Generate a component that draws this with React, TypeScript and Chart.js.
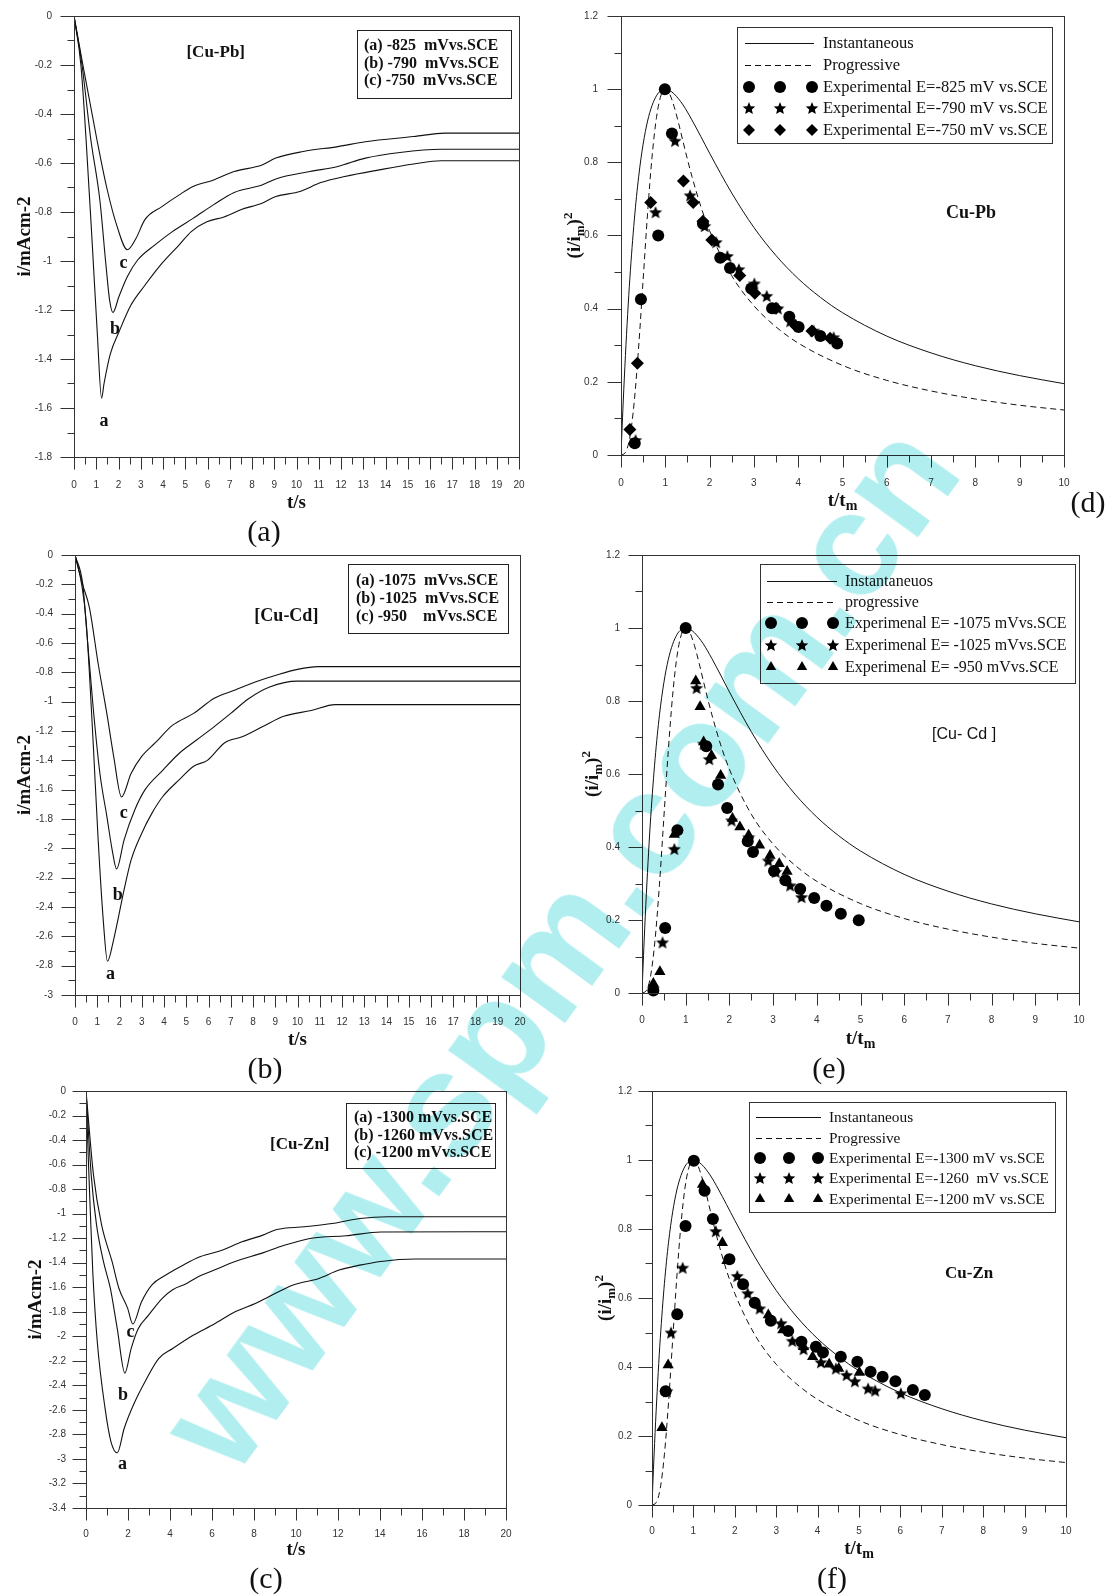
import React, { useEffect, useRef } from 'react';
import { Chart, registerables } from 'chart.js';

Chart.register(...registerables);

type Pt = [number, number];

// ---------- (a) Cu-Pb current transients (t/s, i/mA cm-2) ----------
const PB_CURVE_A: Pt[] = [[0,0],[0.31,-0.2],[0.54,-0.5],[0.82,-0.93],[1.05,-1.3],[1.24,-1.56],[1.35,-1.5],[1.63,-1.38],[2.02,-1.29],[2.56,-1.18],[3.18,-1.1],[3.95,-1.01],[4.73,-0.934],[5.27,-0.88],[5.97,-0.84],[6.74,-0.82],[7.52,-0.79],[8.45,-0.764],[9.07,-0.737],[10.16,-0.716],[11.09,-0.68],[12.17,-0.655],[13.72,-0.628],[15.27,-0.604],[16.5,-0.591],[20,-0.591]];
const PB_CURVE_B: Pt[] = [[0,0],[0.36,-0.2],[0.75,-0.5],[1.16,-0.75],[1.44,-1.02],[1.6,-1.16],[1.75,-1.21],[2.02,-1.145],[2.4,-1.063],[2.87,-0.995],[3.64,-0.934],[4.42,-0.88],[5.35,-0.826],[6.28,-0.77],[7.2,-0.72],[8.45,-0.69],[9.07,-0.665],[10.6,-0.635],[11.86,-0.614],[13.1,-0.58],[14.65,-0.557],[16.5,-0.544],[20,-0.544]];
const PB_CURVE_C: Pt[] = [[0,0],[0.4,-0.2],[1.02,-0.5],[1.47,-0.7],[1.94,-0.86],[2.4,-0.954],[2.79,-0.907],[3.18,-0.832],[3.95,-0.778],[4.73,-0.73],[5.35,-0.696],[6.28,-0.669],[7.2,-0.635],[8.45,-0.608],[9.07,-0.58],[10.3,-0.553],[11.86,-0.533],[13.1,-0.513],[15.27,-0.492],[16.67,-0.478],[20,-0.478]];

// ---------- (b) Cu-Cd current transients ----------
const CD_CURVE_A: Pt[] = [[0,0],[0.3,-0.2],[0.5,-0.45],[0.81,-1.26],[1.04,-1.94],[1.28,-2.51],[1.46,-2.77],[1.74,-2.62],[2.21,-2.28],[2.52,-2.08],[2.99,-1.9],[3.46,-1.76],[3.93,-1.65],[4.7,-1.53],[5.33,-1.44],[5.95,-1.4],[6.73,-1.28],[7.51,-1.24],[8.44,-1.17],[9.38,-1.1],[10.62,-1.06],[11.7,-1.02],[20,-1.02]];
const CD_CURVE_B: Pt[] = [[0,0],[0.35,-0.2],[0.5,-0.47],[0.81,-1.03],[1.12,-1.49],[1.43,-1.78],[1.67,-2.01],[1.87,-2.14],[2.21,-1.94],[2.68,-1.74],[3.15,-1.6],[3.93,-1.47],[4.7,-1.35],[5.48,-1.26],[6.26,-1.17],[7.0,-1.08],[7.8,-0.98],[8.75,-0.9],[10.0,-0.86],[20,-0.86]];
const CD_CURVE_C: Pt[] = [[0,0],[0.34,-0.2],[0.65,-0.36],[1.04,-0.74],[1.43,-1.08],[1.74,-1.375],[2.09,-1.65],[2.52,-1.49],[2.99,-1.375],[3.61,-1.28],[4.39,-1.16],[5.33,-1.08],[6.26,-0.977],[7.2,-0.92],[8.13,-0.864],[9.07,-0.818],[10.0,-0.78],[10.93,-0.761],[20,-0.761]];

// ---------- (c) Cu-Zn current transients ----------
const ZN_CURVE_A: Pt[] = [[0,0],[0.12,-0.6],[0.2,-0.96],[0.33,-1.5],[0.54,-2.05],[0.91,-2.59],[1.19,-2.86],[1.49,-2.95],[1.82,-2.75],[2.31,-2.54],[2.81,-2.37],[3.47,-2.18],[4.13,-2.1],[5.12,-1.99],[6.11,-1.9],[7.1,-1.8],[8.09,-1.73],[8.91,-1.66],[9.9,-1.58],[11.06,-1.53],[12.05,-1.46],[13.04,-1.42],[14.03,-1.39],[15.68,-1.37],[20,-1.37]];
const ZN_CURVE_B: Pt[] = [[0,0],[0.25,-0.69],[0.5,-1.09],[0.83,-1.39],[1.16,-1.61],[1.49,-1.94],[1.85,-2.3],[2.15,-2.1],[2.48,-1.94],[2.97,-1.83],[3.63,-1.69],[4.13,-1.62],[4.79,-1.57],[5.28,-1.52],[6.11,-1.46],[7.1,-1.39],[8.42,-1.32],[9.41,-1.26],[10.73,-1.2],[12.38,-1.18],[14.03,-1.15],[20,-1.148]];
const ZN_CURVE_C: Pt[] = [[0,0],[0.36,-0.69],[0.74,-1.09],[1.24,-1.39],[1.57,-1.61],[1.98,-1.77],[2.23,-1.9],[2.64,-1.72],[3.14,-1.58],[3.8,-1.5],[4.62,-1.42],[5.45,-1.35],[6.44,-1.3],[7.43,-1.23],[8.42,-1.175],[9.08,-1.13],[10.4,-1.107],[11.72,-1.08],[13.04,-1.04],[14.36,-1.025],[20,-1.025]];

const INST_T = [0,0.02,0.05,0.1,0.15,0.2,0.3,0.4,0.5,0.6,0.7,0.8,0.9,1,1.1,1.2,1.4,1.6,1.8,2,2.5,3,3.5,4,4.5,5,6,7,8,9,10];
const INST_V = [0,0.06,0.145,0.272,0.384,0.483,0.642,0.762,0.85,0.913,0.955,0.982,0.996,1,0.996,0.987,0.957,0.916,0.871,0.825,0.716,0.622,0.545,0.482,0.431,0.389,0.325,0.279,0.244,0.217,0.195];
const PROG_T = [0,0.1,0.2,0.3,0.4,0.5,0.6,0.7,0.8,0.9,1,1.1,1.2,1.3,1.4,1.5,1.6,1.8,2,2.5,3,3.5,4,5,6,7,8,9,10];
const PROG_V = [0,0.007,0.049,0.147,0.298,0.48,0.661,0.814,0.922,0.982,1,0.986,0.952,0.907,0.857,0.808,0.762,0.68,0.613,0.49,0.408,0.35,0.306,0.245,0.204,0.175,0.153,0.136,0.123];

// ---------- (d) Cu-Pb experimental (t/tm, (i/im)^2) ----------
const PB_EXP_825: Pt[] = [[0.31,0.032],[0.45,0.426],[0.84,0.6],[0.99,1.0],[1.15,0.879],[1.85,0.632],[2.24,0.539],[2.46,0.511],[2.94,0.455],[3.41,0.401],[3.8,0.378],[4.01,0.35],[4.5,0.325],[4.88,0.305]];
const PB_EXP_790: Pt[] = [[0.33,0.041],[0.78,0.664],[1.22,0.859],[1.56,0.71],[1.89,0.626],[2.15,0.582],[2.4,0.544],[2.66,0.508],[3.01,0.469],[3.29,0.435],[3.54,0.401],[3.82,0.366],[4.35,0.34],[4.8,0.322]];
const PB_EXP_750: Pt[] = [[0.2,0.07],[0.37,0.251],[0.67,0.69],[1.41,0.749],[1.63,0.69],[1.85,0.639],[2.05,0.588],[2.68,0.491],[3.02,0.442],[3.5,0.401],[3.94,0.353],[4.31,0.339],[4.72,0.319]];

// ---------- (e) Cu-Cd experimental ----------
const CD_EXP_1075: Pt[] = [[0.26,0.007],[0.53,0.178],[0.81,0.446],[1.0,1.0],[1.47,0.676],[1.74,0.571],[1.95,0.507],[2.42,0.416],[2.54,0.386],[3.02,0.334],[3.28,0.309],[3.62,0.285],[3.94,0.26],[4.22,0.239],[4.55,0.217],[4.96,0.199]];
const CD_EXP_1025: Pt[] = [[0.26,0.012],[0.47,0.139],[0.74,0.395],[1.25,0.836],[1.41,0.683],[1.54,0.641],[2.05,0.473],[2.44,0.427],[2.89,0.363],[3.06,0.332],[3.39,0.295],[3.65,0.263]];
const CD_EXP_950: Pt[] = [[0.26,0.026],[0.41,0.058],[0.74,0.434],[1.23,0.855],[1.33,0.784],[1.41,0.688],[1.59,0.651],[1.8,0.596],[2.07,0.478],[2.24,0.455],[2.44,0.432],[2.69,0.405],[2.93,0.377],[3.14,0.354],[3.32,0.333]];

// ---------- (f) Cu-Zn experimental ----------
const ZN_EXP_1300: Pt[] = [[0.33,0.33],[0.61,0.553],[0.81,0.809],[1.01,0.998],[1.27,0.911],[1.47,0.829],[1.87,0.712],[2.2,0.64],[2.48,0.586],[2.87,0.534],[3.29,0.504],[3.61,0.473],[3.96,0.459],[4.13,0.442],[4.56,0.43],[4.96,0.415],[5.28,0.386],[5.57,0.372],[5.88,0.359],[6.3,0.333],[6.59,0.319]];
const ZN_EXP_1260: Pt[] = [[0.36,0.33],[0.46,0.5],[0.74,0.688],[1.54,0.794],[2.06,0.664],[2.31,0.614],[2.6,0.57],[3.12,0.527],[3.39,0.476],[3.66,0.452],[4.08,0.414],[4.44,0.396],[4.7,0.377],[4.9,0.359],[5.22,0.338],[5.39,0.332],[6.01,0.324]];
const ZN_EXP_1200: Pt[] = [[0.24,0.224],[0.39,0.406],[1.22,0.929],[1.7,0.76],[1.81,0.708],[2.81,0.551],[3.16,0.507],[3.66,0.459],[3.88,0.43],[4.28,0.408],[4.51,0.396],[5.01,0.384]];

// ---------- text ----------
const LEG_A = ['(a) -825  mVvs.SCE', '(b) -790  mVvs.SCE', '(c) -750  mVvs.SCE'];
const LEG_B = ['(a) -1075  mVvs.SCE', '(b) -1025  mVvs.SCE', '(c) -950    mVvs.SCE'];
const LEG_C = ['(a) -1300 mVvs.SCE', '(b) -1260 mVvs.SCE', '(c) -1200 mVvs.SCE'];
const LEG_D = ['Instantaneous', 'Progressive', 'Experimental E=-825 mV vs.SCE', 'Experimental E=-790 mV vs.SCE', 'Experimental E=-750 mV vs.SCE'];
const LEG_E = ['Instantaneuos', 'progressive', 'Experimenal E= -1075 mVvs.SCE', 'Experimenal E= -1025 mVvs.SCE', 'Experimenal E= -950 mVvs.SCE'];
const LEG_F = ['Instantaneous', 'Progressive', 'Experimental E=-1300 mV vs.SCE', 'Experimental E=-1260  mV vs.SCE', 'Experimental E=-1200 mV vs.SCE'];

const SERIF = '"Liberation Serif", "Times New Roman", serif';
const SANS = '"Liberation Sans", Arial, sans-serif';
const AXIS = '#333';
const INK = '#111';

type Marker = 'circle' | 'star' | 'diamond' | 'triangle';
type Part = { t: string; size: number; dy: number };
type Note = { x: number; y: number; text: string; font: string };

interface PanelSpec {
  key: string;
  left: number; top: number; w: number; h: number;
  yW: number; xH: number; padTop: number; padRight: number;
  xMin: number; xMax: number; xStep: number; xMinor: number;
  yMin: number; yMax: number; yStep: number; yMinor: number;
  xLabelPad: number; yLabelPad: number;
  xTitle: Part[]; yTitle: Part[]; xTitleOff: number; yTitleOff: number;
  notes: Note[];
  boxLegend?: { box: number[]; textX: number; rows: number[]; texts: string[] };
  symLegend?: { box: number[]; lineX: number[]; textX: number; symX: number[]; rows: number[]; texts: string[]; markers: Marker[]; fontSize: number };
  curves?: Pt[][];
  exp?: { data: Pt[]; marker: Marker }[];
}

const T_S: Part[] = [{ t: 't/s', size: 19, dy: 0 }];
const T_TM: Part[] = [{ t: 't/t', size: 19, dy: 0 }, { t: 'm', size: 14, dy: 4 }];
const Y_I: Part[] = [{ t: 'i/mAcm-2', size: 19, dy: 0 }];
const Y_R: Part[] = [{ t: '(i/i', size: 19, dy: 0 }, { t: 'm', size: 13, dy: 4 }, { t: ')', size: 19, dy: 0 }, { t: '2', size: 13, dy: -8 }];

const PANELS: PanelSpec[] = [
  {
    key: 'a', left: 0, top: 0, w: 545, h: 520, yW: 74, xH: 63, padTop: 16, padRight: 26,
    xMin: 0, xMax: 20, xStep: 1, xMinor: 0.5, yMin: -1.8, yMax: 0, yStep: 0.2, yMinor: 0.1,
    xLabelPad: 22, yLabelPad: 22, xTitle: T_S, yTitle: Y_I, xTitleOff: 45, yTitleOff: 50,
    notes: [
      { x: 6.37, y: -0.151, text: '[Cu-Pb]', font: `bold 17px ${SERIF}` },
      { x: 2.22, y: -1.01, text: 'c', font: `bold 18px ${SERIF}` },
      { x: 1.84, y: -1.277, text: 'b', font: `bold 18px ${SERIF}` },
      { x: 1.35, y: -1.653, text: 'a', font: `bold 18px ${SERIF}` },
    ],
    boxLegend: { box: [357, 30, 511, 98], textX: 364, rows: [46, 63.5, 81], texts: LEG_A },
    curves: [PB_CURVE_A, PB_CURVE_B, PB_CURVE_C],
  },
  {
    key: 'b', left: 0, top: 538, w: 545, h: 522, yW: 75, xH: 65, padTop: 17, padRight: 25,
    xMin: 0, xMax: 20, xStep: 1, xMinor: 0.5, yMin: -3, yMax: 0, yStep: 0.2, yMinor: 0.1,
    xLabelPad: 21, yLabelPad: 22, xTitle: T_S, yTitle: Y_I, xTitleOff: 44, yTitleOff: 51,
    notes: [
      { x: 9.5, y: -0.42, text: '[Cu-Cd]', font: `bold 18px ${SERIF}` },
      { x: 2.19, y: -1.76, text: 'c', font: `bold 18px ${SERIF}` },
      { x: 1.92, y: -2.32, text: 'b', font: `bold 18px ${SERIF}` },
      { x: 1.6, y: -2.86, text: 'a', font: `bold 18px ${SERIF}` },
    ],
    boxLegend: { box: [348, 564, 508, 633], textX: 356, rows: [581, 599, 617], texts: LEG_B },
    curves: [CD_CURVE_A, CD_CURVE_B, CD_CURVE_C],
  },
  {
    key: 'c', left: 0, top: 1075, w: 545, h: 520, yW: 86, xH: 87, padTop: 16, padRight: 39,
    xMin: 0, xMax: 20, xStep: 2, xMinor: 1, yMin: -3.4, yMax: 0, yStep: 0.2, yMinor: 0.1,
    xLabelPad: 20, yLabelPad: 20, xTitle: T_S, yTitle: Y_I, xTitleOff: 41, yTitleOff: 51,
    notes: [
      { x: 10.18, y: -0.44, text: '[Cu-Zn]', font: `bold 17px ${SERIF}` },
      { x: 2.12, y: -1.966, text: 'c', font: `bold 18px ${SERIF}` },
      { x: 1.76, y: -2.48, text: 'b', font: `bold 18px ${SERIF}` },
      { x: 1.74, y: -3.04, text: 'a', font: `bold 18px ${SERIF}` },
    ],
    boxLegend: { box: [346, 1103, 495, 1168], textX: 354, rows: [1118, 1136, 1153], texts: LEG_C },
    curves: [ZN_CURVE_A, ZN_CURVE_B, ZN_CURVE_C],
  },
  {
    key: 'd', left: 545, top: 0, w: 563, h: 520, yW: 76, xH: 65, padTop: 16, padRight: 44,
    xMin: 0, xMax: 10, xStep: 1, xMinor: 0.5, yMin: 0, yMax: 1.2, yStep: 0.2, yMinor: 0.1,
    xLabelPad: 22, yLabelPad: 23, xTitle: T_TM, yTitle: Y_R, xTitleOff: 45, yTitleOff: 47,
    notes: [{ x: 7.9, y: 0.661, text: 'Cu-Pb', font: `bold 18px ${SERIF}` }],
    symLegend: { box: [737, 27, 1052, 143], lineX: [745, 814], textX: 823, symX: [749, 780, 812], rows: [43, 65, 87, 108, 130], texts: LEG_D, markers: ['circle', 'star', 'diamond'], fontSize: 16.5 },
    exp: [{ data: PB_EXP_825, marker: 'circle' }, { data: PB_EXP_790, marker: 'star' }, { data: PB_EXP_750, marker: 'diamond' }],
  },
  {
    key: 'e', left: 545, top: 538, w: 563, h: 522, yW: 97, xH: 67, padTop: 17, padRight: 29,
    xMin: 0, xMax: 10, xStep: 1, xMinor: 0.5, yMin: 0, yMax: 1.2, yStep: 0.2, yMinor: 0.1,
    xLabelPad: 21, yLabelPad: 22, xTitle: T_TM, yTitle: Y_R, xTitleOff: 45, yTitleOff: 50,
    notes: [{ x: 7.37, y: 0.707, text: '[Cu- Cd ]', font: `16px ${SANS}` }],
    symLegend: { box: [760, 564, 1075, 683], lineX: [767, 837], textX: 845, symX: [771, 802, 833], rows: [581, 602, 623, 645, 667], texts: LEG_E, markers: ['circle', 'star', 'triangle'], fontSize: 16 },
    exp: [{ data: CD_EXP_1075, marker: 'circle' }, { data: CD_EXP_1025, marker: 'star' }, { data: CD_EXP_950, marker: 'triangle' }],
  },
  {
    key: 'f', left: 545, top: 1075, w: 563, h: 520, yW: 107, xH: 90, padTop: 16, padRight: 42,
    xMin: 0, xMax: 10, xStep: 1, xMinor: 0.5, yMin: 0, yMax: 1.2, yStep: 0.2, yMinor: 0.1,
    xLabelPad: 20, yLabelPad: 20, xTitle: T_TM, yTitle: Y_R, xTitleOff: 43, yTitleOff: 47,
    notes: [{ x: 7.66, y: 0.67, text: 'Cu-Zn', font: `bold 17px ${SERIF}` }],
    symLegend: { box: [749, 1102, 1055, 1212], lineX: [756, 821], textX: 829, symX: [760, 789, 818], rows: [1117, 1138, 1158, 1178, 1199], texts: LEG_F, markers: ['circle', 'star', 'triangle'], fontSize: 15.3 },
    exp: [{ data: ZN_EXP_1300, marker: 'circle' }, { data: ZN_EXP_1260, marker: 'star' }, { data: ZN_EXP_1200, marker: 'triangle' }],
  },
];

const LABELS = [
  { text: '(a)', x: 264, y: 531 },
  { text: '(b)', x: 265, y: 1068 },
  { text: '(c)', x: 266, y: 1578 },
  { text: '(d)', x: 1088, y: 502 },
  { text: '(e)', x: 829, y: 1068 },
  { text: '(f)', x: 832, y: 1578 },
];

function starPath(ctx: CanvasRenderingContext2D, cx: number, cy: number, R: number) {
  ctx.beginPath();
  for (let i = 0; i < 10; i++) {
    const r = i % 2 === 0 ? R : R * 0.45;
    const a = -Math.PI / 2 + (i * Math.PI) / 5;
    const px = cx + r * Math.cos(a);
    const py = cy + R * 0.1 + r * Math.sin(a);
    if (i === 0) ctx.moveTo(px, py); else ctx.lineTo(px, py);
  }
  ctx.closePath();
}

function drawMarker(ctx: CanvasRenderingContext2D, kind: Marker, x: number, y: number, r: number) {
  ctx.fillStyle = '#000';
  if (kind === 'circle') {
    ctx.beginPath(); ctx.arc(x, y, r, 0, Math.PI * 2); ctx.fill();
  } else if (kind === 'star') {
    starPath(ctx, x, y, r * 1.1); ctx.fill();
  } else if (kind === 'diamond') {
    ctx.beginPath(); ctx.moveTo(x, y - r); ctx.lineTo(x + r, y); ctx.lineTo(x, y + r); ctx.lineTo(x - r, y); ctx.closePath(); ctx.fill();
  } else {
    ctx.beginPath();
    for (let i = 0; i < 3; i++) {
      const a = (i * 2 * Math.PI) / 3;
      const px = x + Math.sin(a) * r, py = y - Math.cos(a) * r;
      if (i === 0) ctx.moveTo(px, py); else ctx.lineTo(px, py);
    }
    ctx.closePath(); ctx.fill();
  }
}

let starImg: HTMLCanvasElement | null = null;
function getStar(): HTMLCanvasElement {
  if (starImg) return starImg;
  const c = document.createElement('canvas');
  c.width = 14; c.height = 14;
  const g = c.getContext('2d')!;
  g.fillStyle = '#000';
  starPath(g, 7, 7, 6.8);
  g.fill();
  starImg = c;
  return c;
}

function drawRich(ctx: CanvasRenderingContext2D, parts: Part[], x: number, y: number, rot: number) {
  ctx.save();
  ctx.translate(x, y);
  ctx.rotate(rot);
  ctx.fillStyle = INK;
  ctx.textAlign = 'left';
  ctx.textBaseline = 'alphabetic';
  let w = 0;
  for (const p of parts) { ctx.font = `bold ${p.size}px ${SERIF}`; w += ctx.measureText(p.t).width; }
  let cx = -w / 2;
  const base = parts[0].size * 0.34;
  for (const p of parts) {
    ctx.font = `bold ${p.size}px ${SERIF}`;
    ctx.fillText(p.t, cx, base + p.dy);
    cx += ctx.measureText(p.t).width;
  }
  ctx.restore();
}

function isMult(v: number, step: number) {
  const q = v / step;
  return Math.abs(q - Math.round(q)) < 1e-6;
}

function makeDecor(spec: PanelSpec) {
  return {
    id: 'decor' + spec.key,
    afterDraw(chart: any) {
      const ctx: CanvasRenderingContext2D = chart.ctx;
      const ca = chart.chartArea;
      const xs = chart.scales.x, ys = chart.scales.y;
      const L = Math.round(ca.left) + 0.5, R = Math.round(ca.right) + 0.5;
      const T = Math.round(ca.top) + 0.5, B = Math.round(ca.bottom) + 0.5;
      ctx.save();
      ctx.strokeStyle = AXIS;
      ctx.lineWidth = 1;
      ctx.strokeRect(L, T, R - L, B - T);
      ctx.beginPath();
      const nx = Math.round((spec.xMax - spec.xMin) / spec.xMinor);
      for (let i = 0; i <= nx; i++) {
        const v = spec.xMin + i * spec.xMinor;
        const px = Math.round(xs.getPixelForValue(v)) + 0.5;
        ctx.moveTo(px, B);
        ctx.lineTo(px, B + (isMult(v, spec.xStep) ? 12 : 7));
      }
      const ny = Math.round((spec.yMax - spec.yMin) / spec.yMinor);
      for (let i = 0; i <= ny; i++) {
        const v = spec.yMin + i * spec.yMinor;
        const py = Math.round(ys.getPixelForValue(v)) + 0.5;
        ctx.moveTo(L, py);
        ctx.lineTo(L - (isMult(v, spec.yStep) ? 14 : 7), py);
      }
      ctx.stroke();

      drawRich(ctx, spec.xTitle, (ca.left + ca.right) / 2, ca.bottom + spec.xTitleOff, 0);
      drawRich(ctx, spec.yTitle, ca.left - spec.yTitleOff, (ca.top + ca.bottom) / 2, -Math.PI / 2);

      ctx.fillStyle = INK;
      ctx.textAlign = 'center';
      ctx.textBaseline = 'middle';
      for (const n of spec.notes) {
        ctx.font = n.font;
        ctx.fillText(n.text, xs.getPixelForValue(n.x), ys.getPixelForValue(n.y));
      }

      const ox = spec.left, oy = spec.top;
      if (spec.boxLegend) {
        const lg = spec.boxLegend;
        ctx.strokeStyle = '#222';
        ctx.strokeRect(Math.round(lg.box[0] - ox) + 0.5, Math.round(lg.box[1] - oy) + 0.5, lg.box[2] - lg.box[0], lg.box[3] - lg.box[1]);
        ctx.font = `bold 16px ${SERIF}`;
        ctx.textAlign = 'left';
        ctx.textBaseline = 'middle';
        ctx.fillStyle = INK;
        lg.texts.forEach((t, i) => ctx.fillText(t, lg.textX - ox, lg.rows[i] - oy));
      }
      if (spec.symLegend) {
        const lg = spec.symLegend;
        ctx.strokeStyle = '#333';
        ctx.lineWidth = 1;
        ctx.strokeRect(Math.round(lg.box[0] - ox) + 0.5, Math.round(lg.box[1] - oy) + 0.5, lg.box[2] - lg.box[0], lg.box[3] - lg.box[1]);
        ctx.strokeStyle = '#111';
        ctx.beginPath();
        ctx.moveTo(lg.lineX[0] - ox, Math.round(lg.rows[0] - oy) + 0.5);
        ctx.lineTo(lg.lineX[1] - ox, Math.round(lg.rows[0] - oy) + 0.5);
        ctx.stroke();
        ctx.setLineDash([6, 4]);
        ctx.beginPath();
        ctx.moveTo(lg.lineX[0] - ox, Math.round(lg.rows[1] - oy) + 0.5);
        ctx.lineTo(lg.lineX[1] - ox, Math.round(lg.rows[1] - oy) + 0.5);
        ctx.stroke();
        ctx.setLineDash([]);
        lg.markers.forEach((m, i) => {
          for (const sx of lg.symX) drawMarker(ctx, m, sx - ox, lg.rows[i + 2] - oy, 6);
        });
        ctx.font = `${lg.fontSize}px ${SERIF}`;
        ctx.textAlign = 'left';
        ctx.textBaseline = 'middle';
        ctx.fillStyle = INK;
        lg.texts.forEach((t, i) => ctx.fillText(t, lg.textX - ox, lg.rows[i] - oy + 1));
      }
      ctx.restore();
    },
  };
}

const fmt = (v: any) => String(Math.round(Number(v) * 100) / 100);
const toXY = (a: Pt[]) => a.map(([x, y]) => ({ x, y }));
const zip = (xs: number[], ys: number[]) => xs.map((x, i) => ({ x, y: ys[i] }));

function buildConfig(spec: PanelSpec): any {
  const datasets: any[] = [];
  if (spec.exp) {
    for (const e of spec.exp) {
      const style = e.marker === 'star' ? getStar() : e.marker === 'diamond' ? 'rectRot' : e.marker;
      datasets.push({
        data: toXY(e.data), showLine: false, pointStyle: style,
        pointRadius: e.marker === 'circle' ? 6 : 6.5,
        pointBackgroundColor: '#000', pointBorderColor: '#000', pointBorderWidth: 0, clip: false,
      });
    }
    datasets.push({ data: zip(INST_T, INST_V), showLine: true, pointRadius: 0, borderColor: INK, borderWidth: 1, cubicInterpolationMode: 'monotone' });
    datasets.push({ data: zip(PROG_T, PROG_V), showLine: true, pointRadius: 0, borderColor: INK, borderWidth: 1, borderDash: [6, 4], cubicInterpolationMode: 'monotone' });
  }
  if (spec.curves) {
    for (const c of spec.curves) {
      datasets.push({ data: toXY(c), showLine: true, pointRadius: 0, borderColor: INK, borderWidth: 1.1, cubicInterpolationMode: 'monotone' });
    }
  }
  return {
    type: 'scatter',
    data: { datasets },
    options: {
      responsive: false,
      animation: false,
      devicePixelRatio: 1,
      events: [],
      layout: { padding: { top: spec.padTop, right: spec.padRight, left: 0, bottom: 0 } },
      plugins: { legend: { display: false }, tooltip: { enabled: false } },
      scales: {
        x: {
          type: 'linear', position: 'bottom', min: spec.xMin, max: spec.xMax,
          ticks: { stepSize: spec.xStep, autoSkip: false, maxRotation: 0, padding: spec.xLabelPad, font: { family: SANS, size: 10 }, color: '#333', callback: fmt },
          grid: { display: false, drawTicks: false },
          border: { display: false },
          afterFit: (s: any) => { s.height = spec.xH; s.paddingLeft = 0; s.paddingRight = 0; },
        },
        y: {
          type: 'linear', position: 'left', min: spec.yMin, max: spec.yMax,
          ticks: { stepSize: spec.yStep, autoSkip: false, padding: spec.yLabelPad, font: { family: SANS, size: 10 }, color: '#333', callback: fmt },
          grid: { display: false, drawTicks: false },
          border: { display: false },
          afterFit: (s: any) => { s.width = spec.yW; s.paddingTop = 0; s.paddingBottom = 0; },
        },
      },
    },
    plugins: [makeDecor(spec)],
  };
}

function Panel({ spec }: { spec: PanelSpec }) {
  const ref = useRef<HTMLCanvasElement>(null);
  useEffect(() => {
    const chart = new Chart(ref.current as HTMLCanvasElement, buildConfig(spec));
    return () => chart.destroy();
  }, [spec]);
  return (
    <canvas
      ref={ref}
      width={spec.w}
      height={spec.h}
      style={{ position: 'absolute', left: spec.left, top: spec.top, width: spec.w, height: spec.h }}
    />
  );
}

export default function App() {
  return (
    <div style={{ position: 'absolute', left: 0, top: 0, width: 1108, height: 1595, background: '#fff', overflow: 'hidden' }}>
      {PANELS.map((p) => <Panel key={p.key} spec={p} />)}
      {LABELS.map((l) => (
        <div
          key={l.text}
          style={{ position: 'absolute', left: l.x, top: l.y, transform: 'translate(-50%, -50%)', fontFamily: SERIF, fontSize: 30, lineHeight: 1, color: '#111', whiteSpace: 'nowrap' }}
        >
          {l.text}
        </div>
      ))}
      <div
        style={{
          position: 'absolute', left: 558, top: 946, transform: 'translate(-50%, -50%) rotate(-54deg)',
          fontFamily: SANS, fontWeight: 'bold', fontSize: 148, lineHeight: 1, color: '#b0eeef', whiteSpace: 'nowrap',
          mixBlendMode: 'multiply', pointerEvents: 'none',
        }}
      >
        www.spm.com.cn
      </div>
    </div>
  );
}
